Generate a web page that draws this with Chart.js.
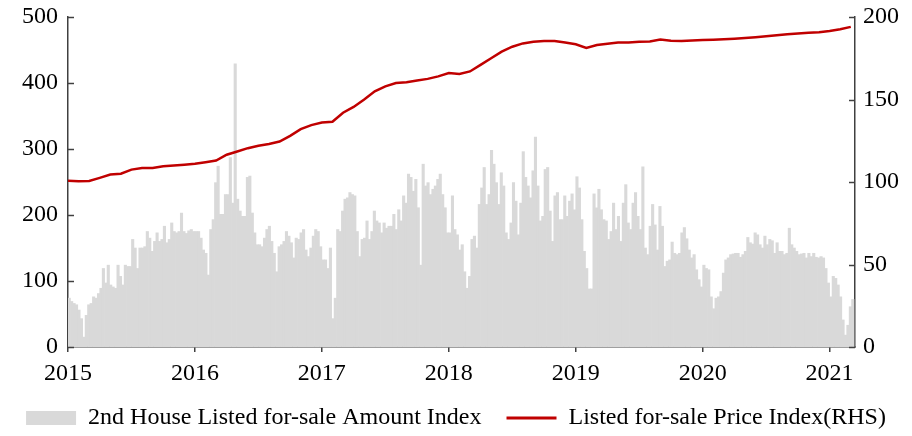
<!DOCTYPE html>
<html>
<head>
<meta charset="utf-8">
<script src="https://cdn.jsdelivr.net/npm/chart.js@4.4.0/dist/chart.umd.min.js"></script>
<style>
  html, body { margin: 0; padding: 0; background: #fff; overflow: hidden; }
  #wrap { width: 912px; height: 440px; }
</style>
</head>
<body>
<div id="wrap"><canvas id="myChart" width="912" height="440"></canvas></div>
<script>
// 2nd house listed for-sale amount index, weekly
var amount2015 = [74,69,66,64,56,43,15,48,64,66,76,74,81,89,119,97,124,94,91,89,124,107,94,124,122,122,163,150,119,150,150,152,175,165,145,160,173,160,163,183,158,163,188,175,173,175,203,175,172,176,178,175];
var amount2016 = [175,175,165,147,142,109,178,193,249,274,201,201,231,231,287,218,429,224,206,198,198,257,259,203,173,155,155,152,165,178,183,160,142,114,152,155,160,175,168,158,135,165,163,173,178,147,137,150,168,178,175,152];
var amount2017 = [132,132,119,150,43,74,178,175,206,224,226,234,231,229,175,137,163,165,191,163,175,206,191,188,173,188,180,183,183,201,178,208,191,229,218,262,257,236,254,211,124,277,244,249,231,239,244,254,262,231,211,173];
var amount2018 = [173,229,178,170,147,155,114,89,107,163,168,150,216,241,272,216,231,298,277,249,216,264,244,173,163,188,249,221,170,218,296,257,244,226,267,318,244,191,198,269,272,206,160,229,234,193,193,229,198,221,232,208];
var amount2019 = [258,241,193,145,119,88,88,232,211,239,208,193,191,163,175,218,178,198,160,218,246,188,178,218,234,198,178,273,150,140,183,216,185,147,213,183,122,130,132,159,142,140,142,173,181,164,147,135,140,117,102,91];
var amount2020 = [124,119,117,76,58,74,76,84,112,132,135,140,141,142,142,136,140,145,166,158,156,173,170,155,150,168,155,163,161,142,158,145,145,140,142,180,155,150,145,140,141,142,135,142,137,142,136,135,137,135,119,97];
var amount2021 = [76,107,104,94,76,41,18,33,61,72];

// listed for-sale price index (RHS), monthly from Jan 2015
var priceIndex = [100.8,100.5,100.6,102.5,104.5,105,107.5,108.5,108.5,109.5,110,110.5,
  111,112,113,116.5,118.5,120.5,122,123,124.5,128,132,134.5,
  136,136.5,142,145.5,150,155,158,160,160.5,161.5,162.5,164,
  166,165.5,167,171,175,179,182,184,185,185.5,185.5,184.5,
  183.5,181.3,183,183.8,184.5,184.6,185,185.2,186.3,185.6,185.5,185.7,
  186,186.2,186.5,186.8,187.2,187.7,188.3,189,189.5,190,190.4,190.8,
  191.5,192.6,194];

var seriesNames = ['2nd House Listed for-sale Amount Index', 'Listed for-sale Price Index(RHS)'];

var amounts = amount2015.concat(amount2016, amount2017, amount2018, amount2019, amount2020, amount2021);
var amountPoints = amounts.map(function(v, i) { return { x: 2015 + (i + 0.5) / 52, y: v }; });
var pricePoints = priceIndex.map(function(v, i) { return { x: 2015 + i / 12, y: v }; });

var axisColor = '#404040';
var serif = '"Liberation Serif", "Times New Roman", serif';
Chart.defaults.font.family = serif;
Chart.defaults.font.size = 24;
Chart.defaults.color = '#000';

// y tick marks point into the plot area
var innerTicks = {
  id: 'innerTicks',
  afterDatasetsDraw: function(chart) {
    var ctx = chart.ctx;
    ['y', 'y1'].forEach(function(id) {
      var s = chart.scales[id];
      ctx.save();
      ctx.strokeStyle = axisColor;
      ctx.lineWidth = 1.5;
      s.ticks.forEach(function(t) {
        var py = Math.round(s.getPixelForValue(t.value)) + 0.5;
        ctx.beginPath();
        if (id === 'y') { ctx.moveTo(s.right, py); ctx.lineTo(s.right + 6, py); }
        else { ctx.moveTo(s.left, py); ctx.lineTo(s.left - 6, py); }
        ctx.stroke();
      });
      ctx.restore();
    });
  }
};

function fixSide(width) {
  return function(s) {
    s.width = width;
    s.paddingTop = 0;
    s.paddingBottom = 0;
  };
}

var chart = new Chart(document.getElementById('myChart'), {
  type: 'bar',
  data: {
    datasets: [{
      type: 'bar',
      label: seriesNames[0],
      data: amountPoints,
      backgroundColor: '#D9D9D9',
      borderWidth: 0,
      barPercentage: 1,
      categoryPercentage: 1,
      yAxisID: 'y',
      order: 2
    }, {
      type: 'line',
      label: seriesNames[1],
      data: pricePoints,
      borderColor: '#C00000',
      backgroundColor: '#C00000',
      borderWidth: 2.5,
      pointRadius: 0,
      tension: 0,
      yAxisID: 'y1',
      order: 1
    }]
  },
  options: {
    responsive: false,
    animation: false,
    devicePixelRatio: 1,
    layout: { padding: { top: 17, left: 0, right: 0, bottom: 0 } },
    plugins: {
      tooltip: { enabled: false },
      legend: {
        position: 'bottom',
        labels: {
          usePointStyle: true,
          pointStyleWidth: 50,
          boxHeight: 14,
          padding: 25,
          color: '#000',
          font: { size: 24 },
          generateLabels: function(chart) {
            return [
              { text: seriesNames[0], fillStyle: '#D9D9D9', strokeStyle: '#D9D9D9', lineWidth: 0, pointStyle: 'rect', datasetIndex: 0 },
              { text: seriesNames[1], fillStyle: '#C00000', strokeStyle: '#C00000', lineWidth: 3, pointStyle: 'line', datasetIndex: 1 }
            ];
          }
        }
      }
    },
    scales: {
      x: {
        type: 'linear',
        min: 2015,
        max: 2021.2,
        offset: false,
        grid: { display: true, offset: false, drawOnChartArea: false, drawTicks: true, tickLength: 5, color: axisColor, lineWidth: 1.5 },
        border: { display: true, color: axisColor, width: 1.5 },
        ticks: {
          stepSize: 1,
          includeBounds: false,
          autoSkip: false,
          maxRotation: 0,
          padding: 7,
          callback: function(v) { return String(v); }
        },
        afterFit: function(s) { s.height = 34; }
      },
      y: {
        position: 'left',
        min: 0,
        max: 500,
        grid: { display: false, drawTicks: false },
        border: { display: true, color: axisColor, width: 1.5 },
        ticks: { stepSize: 100, padding: 10 },
        afterFit: fixSide(68)
      },
      y1: {
        position: 'right',
        min: 0,
        max: 200,
        grid: { display: false, drawTicks: false },
        border: { display: true, color: axisColor, width: 1.5 },
        ticks: { stepSize: 50, padding: 8 },
        afterFit: fixSide(57)
      }
    }
  },
  plugins: [innerTicks]
});
</script>
</body>
</html>
